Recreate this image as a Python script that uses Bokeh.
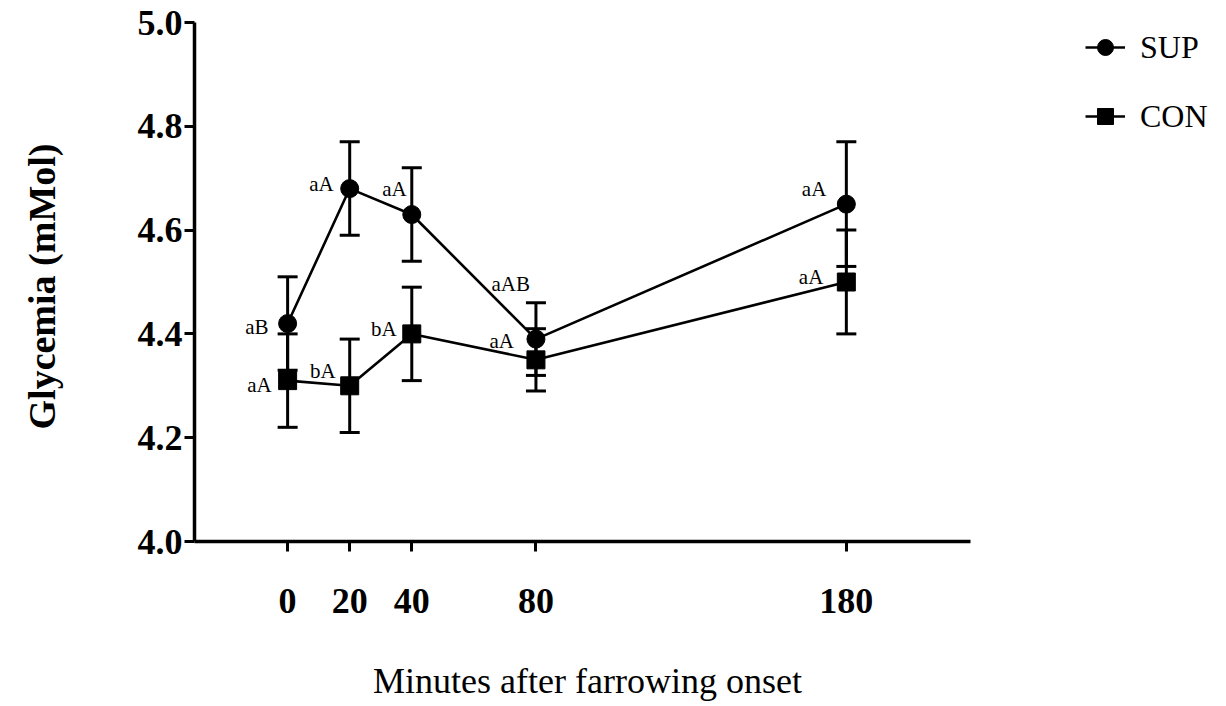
import math
from bokeh.plotting import figure
from bokeh.models import (ColumnDataSource, Whisker, TeeHead, FixedTicker, Legend,
                          LegendItem, CustomJSTickFormatter, Label)
from bokeh.core.properties import value
from bokeh.embed import file_html
from bokeh.resources import INLINE

# ---------------- data ----------------
minutes = [0, 20, 40, 80, 180]
sup_mean = [4.42, 4.68, 4.63, 4.39, 4.65]
sup_err = [0.09, 0.09, 0.09, 0.07, 0.12]
con_mean = [4.31, 4.30, 4.40, 4.35, 4.50]
con_err = [0.09, 0.09, 0.09, 0.06, 0.10]
sup_letters = ["aB", "aA", "aA", "aAB", "aA"]
con_letters = ["aA", "bA", "bA", "aA", "aA"]
y_ticks = [4.0, 4.2, 4.4, 4.6, 4.8, 5.0]
x_ticks = [0, 20, 40, 80, 180]
x_title = "Minutes after farrowing onset"
y_title = "Glycemia (mMol)"

# axis extents shown in the chart
X_MIN, X_MAX = -30, 220
Y_MIN, Y_MAX = 4.0, 5.0

# label offsets (screen px, styling only)
sup_dx = [-19, -16, -5, -6, -20]
sup_dy = [3, -5, -26, -55, -15]
con_dx = [-16, -14, -15, -22, -23]
con_dy = [4, -15, -5, -19, -5]

SERIF = "Liberation Serif"

sup = ColumnDataSource(dict(x=minutes, y=sup_mean,
                            upper=[m + e for m, e in zip(sup_mean, sup_err)],
                            lower=[m - e for m, e in zip(sup_mean, sup_err)],
                            lab=sup_letters, dx=sup_dx, dy=sup_dy))
con = ColumnDataSource(dict(x=minutes, y=con_mean,
                            upper=[m + e for m, e in zip(con_mean, con_err)],
                            lower=[m - e for m, e in zip(con_mean, con_err)],
                            lab=con_letters, dx=con_dx, dy=con_dy))

# layout: the plotting frame covers the whole canvas; axes are pinned inside it
W, H = 1226, 706
AX_L, AX_R, AX_T, AX_B = 194, 970, 22, 541      # axis box in canvas pixels
xs = (AX_R - AX_L) / (X_MAX - X_MIN)
ys = (AX_B - AX_T) / (Y_MAX - Y_MIN)
x_range = (X_MIN - AX_L / xs, X_MAX + (W - AX_R) / xs)
y_range = (Y_MIN - (H - AX_B) / ys, Y_MAX + AX_T / ys)

p = figure(width=W, height=H, x_range=x_range, y_range=y_range,
           output_backend="svg", toolbar_location=None,
           min_border_left=0, min_border_right=0, min_border_top=0,
           min_border_bottom=0)
p.outline_line_color = None
p.grid.grid_line_color = None
p.background_fill_color = "white"

# error bars
for src in (sup, con):
    w = Whisker(source=src, base="x", upper="upper", lower="lower",
                line_color="black", line_width=3,
                upper_head=TeeHead(size=20, line_width=3, line_color="black"),
                lower_head=TeeHead(size=20, line_width=3, line_color="black"))
    p.add_layout(w)

sup_line = p.line("x", "y", source=sup, line_color="black", line_width=2.6)
sup_pts = p.scatter("x", "y", source=sup, marker="circle", size=18,
                    fill_color="black", line_color="black")
con_line = p.line("x", "y", source=con, line_color="black", line_width=2.6)
con_pts = p.scatter("x", "y", source=con, marker="square", size=18,
                    fill_color="black", line_color="black")

for src in (sup, con):
    p.text("x", "y", text="lab", source=src, x_offset="dx", y_offset="dy",
           text_align="right", text_baseline="middle",
           text_font=value(SERIF), text_font_size="21px", text_color="black")

# axes
for ax in (p.xaxis[0], p.yaxis[0]):
    ax.axis_line_width = 3.5
    ax.axis_line_color = "black"
    ax.major_tick_line_width = 3
    ax.major_tick_line_color = "black"
    ax.major_tick_out = 10
    ax.major_tick_in = 0
    ax.minor_tick_line_color = None
    ax.major_label_text_font = SERIF
    ax.major_label_text_font_style = "bold"
    ax.major_label_text_font_size = "36px"
    ax.major_label_text_color = "black"

p.yaxis.ticker = FixedTicker(ticks=y_ticks)
p.yaxis.formatter = CustomJSTickFormatter(code="return tick.toFixed(1);")
p.yaxis.major_label_standoff = 2
p.yaxis.bounds = (Y_MIN, Y_MAX)
p.yaxis.fixed_location = X_MIN

p.xaxis.ticker = FixedTicker(ticks=x_ticks)
p.xaxis.bounds = (X_MIN, X_MAX)
p.xaxis.fixed_location = Y_MIN
p.xaxis.major_label_standoff = 37

# axis titles
p.add_layout(Label(x=587, y=H - 680, x_units="screen", y_units="screen",
                   text=x_title, text_align="center", text_baseline="middle",
                   text_font=SERIF, text_font_size="36px", text_color="black"))
p.add_layout(Label(x=41, y=H - 286, x_units="screen", y_units="screen",
                   text=y_title, angle=math.pi / 2, text_align="center",
                   text_baseline="middle", text_font=SERIF,
                   text_font_style="bold", text_font_size="38px",
                   text_color="black"))

legend = Legend(items=[LegendItem(label="SUP", renderers=[sup_line, sup_pts]),
                       LegendItem(label="CON", renderers=[con_line, con_pts])],
                location=(1085, H - 137), padding=0, margin=0, spacing=27,
                glyph_width=40, glyph_height=42, label_standoff=15,
                label_text_font=SERIF, label_text_font_size="32px",
                label_text_color="black", label_text_baseline="middle",
                border_line_color=None, background_fill_alpha=0)
p.add_layout(legend)

open("out.html", "w").write(file_html(p, INLINE))
